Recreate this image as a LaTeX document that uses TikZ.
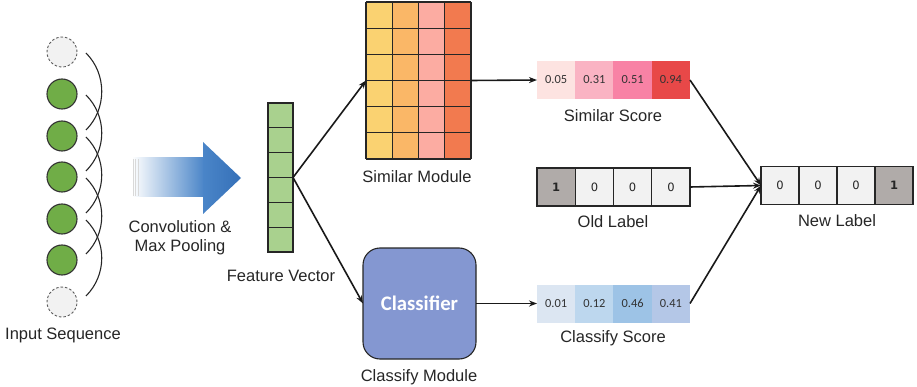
\documentclass[tikz,border=0pt]{standalone}
\usepackage{fontspec}
\setmainfont{Liberation Sans}
\newfontfamily\calib{Carlito}
\newfontfamily\dejavu{DejaVu Sans}
\usetikzlibrary{arrows.meta,calc}

\definecolor{seqgreen}{HTML}{70AD47}
\definecolor{padgray}{HTML}{F2F2F2}
\definecolor{fvgreen}{HTML}{A9D18E}
\definecolor{gridA}{HTML}{FAD271}
\definecolor{gridB}{HTML}{FAB767}
\definecolor{gridC}{HTML}{FCACA2}
\definecolor{gridD}{HTML}{F27A4F}
\definecolor{clsblue}{HTML}{8497D1}
\definecolor{ssA}{HTML}{FDE3E1}
\definecolor{ssB}{HTML}{FAB3C3}
\definecolor{ssC}{HTML}{F882A5}
\definecolor{ssD}{HTML}{E84848}
\definecolor{csA}{HTML}{DCE6F2}
\definecolor{csB}{HTML}{BDD7EE}
\definecolor{csC}{HTML}{9DC3E6}
\definecolor{csD}{HTML}{B4C7E7}
\definecolor{labgray}{HTML}{B0ABA9}
\definecolor{blueA}{HTML}{4A85C8}
\definecolor{blueB}{HTML}{3570B8}

\begin{document}
\begin{tikzpicture}[x=1pt,y=-1pt,
  lbl/.style={inner sep=0pt, font=\fontsize{16.5}{19}\selectfont, text=black!85},
  seqnode/.style={circle, minimum size=30pt, inner sep=0pt, draw=black!80, line width=1.1pt, fill=seqgreen},
  padnode/.style={circle, minimum size=30pt, inner sep=0pt, draw=black!65, dash pattern=on 2.5pt off 2pt,
    line width=0.9pt, fill=padgray},
  group/.style={minimum height=38pt, inner sep=0pt, outer sep=0pt},
  scorecell/.style={minimum width=38.25pt, minimum height=38pt, inner sep=0pt, outer sep=0pt,
    font=\calib\fontsize{12.4}{14}\selectfont, text=black!80},
  labcell/.style={draw=black!85, line width=1.1pt, fill=padgray, minimum width=38.25pt, minimum height=38pt,
    inner sep=0pt, outer sep=0pt, font=\dejavu\fontsize{11.5}{13}\selectfont, text=black!85},
  hotcell/.style={labcell, fill=labgray, font=\dejavu\bfseries\fontsize{11.5}{13}\selectfont},
  gridline/.style={draw=black!85, line width=1.3pt},
  arc/.style={line width=1.1pt, black!85},
  arr/.style={line width=1.6pt, black!90, -{Stealth[length=8pt,width=6pt]}},
]
\useasboundingbox (0,0) rectangle (917,387);

% input sequence with padding at both ends
\node[padnode] (c0) at (62,52) {};
\node[seqnode] (c1) at (62,94) {};
\node[seqnode] (c2) at (62,136) {};
\node[seqnode] (c3) at (62,177) {};
\node[seqnode] (c4) at (62,219) {};
\node[seqnode] (c5) at (62,260) {};
\node[padnode] (c6) at (62,302) {};
\foreach \a/\b in {0/2,1/3,2/4,3/5,4/6}
  \draw[arc] ($(c\a)+(24,1)$) .. controls +(21,21) and +(21,-21) .. ($(c\b)+(24,-6)$);
\node[lbl] (inlbl) at (63,335) {Input Sequence};

% convolution arrow
\shade[left color=white, right color=blueA] (132,158) rectangle (204,197);
\shade[left color=blueA, right color=blueB] (203,142) -- (241,178) -- (203,214) -- cycle;
\foreach \x in {133.5,135.5,138}
  \draw[gray!30, line width=0.6pt] (\x,159) -- (\x,196);
\node[lbl, align=center] (conv) at (180,237.5) {Convolution \&\\Max Pooling};

% feature vector
\node[draw=black!85, line width=1.1pt, fill=fvgreen, minimum width=25pt, minimum height=149pt,
  inner sep=0pt, outer sep=0pt] (fv) at (280.5,177.5) {};
\foreach \k in {1,...,5}
  \draw[black!85, line width=1.1pt] ($(fv.north west)+(0,24.83*\k)$) -- ++(25,0);
\node[lbl] (fvlbl) at (281,276) {Feature Vector};

% similar module grid
\node[minimum width=105pt, minimum height=157pt, inner sep=0pt, outer sep=0pt] (sim) at (418.5,80.5) {};
\foreach \j/\col in {0/gridA,1/gridB,2/gridC,3/gridD}
  \fill[\col] ($(sim.north west)+(26.25*\j,0)$) rectangle ++(26.25,157);
\foreach \j in {0,...,4}
  \draw[gridline] ($(sim.north west)+(26.25*\j,0)$) -- ++(0,157);
\foreach \r in {0,...,6}
  \draw[gridline] ($(sim.north west)+(0,26.167*\r)$) -- ++(105,0);
\node[lbl] (simlbl) at (417,177) {Similar Module};

% classifier
\node[draw=black!85, line width=1.1pt, fill=clsblue, rounded corners=17pt, minimum width=113pt,
  minimum height=111pt, inner sep=0pt, outer sep=0pt, text=white,
  font=\calib\bfseries\fontsize{20.7}{24}\selectfont] (cls) at (419.5,303.5) {Classifier};
\node[lbl] (clslbl) at (419,377) {Classify Module};

% similar score
\node[group, minimum width=153pt] (ss) at (613.5,80) {};
\node[scorecell, fill=ssA] (ss1) at (556.1,80) {0.05};
\node[scorecell, fill=ssB] (ss2) at (594.4,80) {0.31};
\node[scorecell, fill=ssC] (ss3) at (632.6,80) {0.51};
\node[scorecell, fill=ssD] (ss4) at (670.9,80) {0.94};
\node[lbl] (sslbl) at (613,116) {Similar Score};

% old label
\node[group, minimum width=153pt] (ol) at (613.5,187) {};
\node[hotcell] (ol1) at (556.1,187) {1};
\node[labcell] (ol2) at (594.4,187) {0};
\node[labcell] (ol3) at (632.6,187) {0};
\node[labcell] (ol4) at (670.9,187) {0};
\node[lbl] (ollbl) at (613,222) {Old Label};

% classify score
\node[group, minimum width=153pt] (cs) at (613.5,303.5) {};
\node[scorecell, fill=csA] (cs1) at (556.1,303.5) {0.01};
\node[scorecell, fill=csB] (cs2) at (594.4,303.5) {0.12};
\node[scorecell, fill=csC] (cs3) at (632.6,303.5) {0.46};
\node[scorecell, fill=csD] (cs4) at (670.9,303.5) {0.41};
\node[lbl] (cslbl) at (613,338) {Classify Score};

% new label
\node[group, minimum width=152pt] (nl) at (837,185.5) {};
\node[labcell, minimum width=38pt] (nl1) at (780,185.5) {0};
\node[labcell, minimum width=38pt] (nl2) at (818,185.5) {0};
\node[labcell, minimum width=38pt] (nl3) at (856,185.5) {0};
\node[hotcell, minimum width=38pt] (nl4) at (894,185.5) {1};
\node[lbl] (nllbl) at (837,221) {New Label};

% connectors
\draw[arr] (fv.east) -- (sim.west);
\draw[arr] (fv.east) -- (cls.west);
\draw[arr] (sim.east) -- (ss.west);
\draw[arr] (cls.east) -- (cs.west);
\draw[arr] (ss.east) -- (nl.west);
\draw[arr] (ol.east) -- (nl.west);
\draw[arr] (cs.east) -- (nl.west);
\end{tikzpicture}
\end{document}
